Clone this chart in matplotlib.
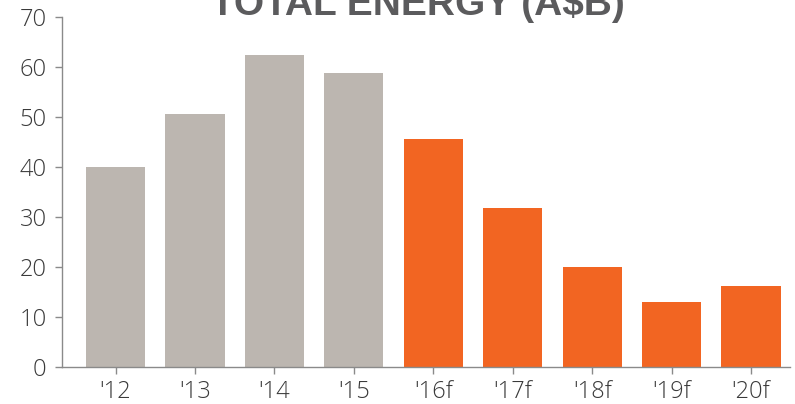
import matplotlib
matplotlib.use("Agg")
import matplotlib.pyplot as plt

categories = ["'12", "'13", "'14", "'15", "'16f", "'17f", "'18f", "'19f", "'20f"]
values = [40, 50.7, 62.5, 58.9, 45.6, 31.8, 20.0, 13.0, 16.3]
colors = ["#bcb6b0"] * 4 + ["#f26522"] * 5
yticks = [0, 10, 20, 30, 40, 50, 60, 70]

W, H = 795, 404
fig = plt.figure(figsize=(W / 100, H / 100), dpi=100)
ax = fig.add_axes([62 / W, (H - 367) / H, (790 - 62) / W, (367 - 17) / H])

x = list(range(len(categories)))
ax.bar(x, values, width=0.745, color=colors, zorder=2)
ax.set_xlim(-0.674, 8.49)
ax.set_ylim(0, 70)
ax.set_yticks(yticks)
ax.set_xticks(x)
ax.set_xticklabels(categories)

for s in ["top", "right"]:
    ax.spines[s].set_visible(False)
for s in ["left", "bottom"]:
    ax.spines[s].set_color("#8a8a8a")
    ax.spines[s].set_linewidth(1.0)

ax.tick_params(axis="both", colors="#8a8a8a", labelcolor="#3a3a3a",
               labelsize=17, length=5, width=1, direction="out")
for lbl in ax.get_xticklabels() + ax.get_yticklabels():
    lbl.set_fontfamily("Open Sans")
    lbl.set_fontweight("light")
ax.tick_params(axis="y", pad=6)
ax.tick_params(axis="x", pad=4)

fig.text(417.5 / W, 1.0 - 15 / H, "TOTAL ENERGY (A$B)", ha="center", va="baseline",
         fontsize=28, fontweight="bold", color="#5b5b5d", family="Liberation Sans")

fig.savefig("out.png", dpi=100)
